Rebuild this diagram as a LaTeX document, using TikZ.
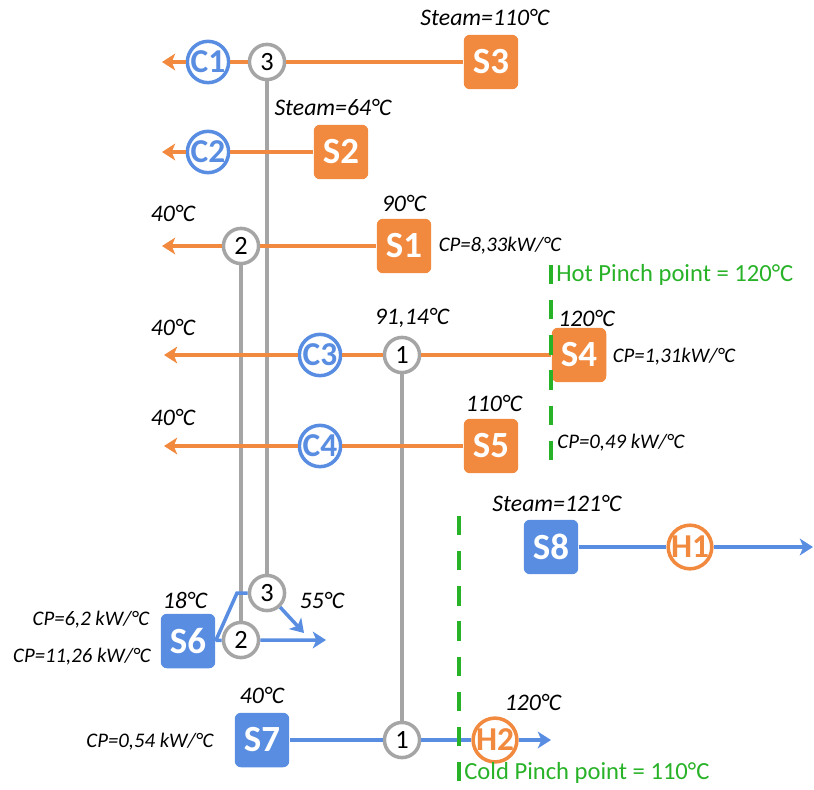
\documentclass[tikz,border=0pt]{standalone}
\usepackage{fontspec}
\setmainfont{Carlito}
\usetikzlibrary{arrows.meta,backgrounds}
\definecolor{hotc}{RGB}{241,137,62}
\definecolor{coldc}{RGB}{88,141,226}
\definecolor{pinchc}{RGB}{40,178,40}
\definecolor{hxgrey}{RGB}{165,165,165}

\begin{document}
\begin{tikzpicture}[x=0.2mm,y=-0.2mm,
    hotline/.style={draw=hotc,line width=2pt},
    coldline/.style={draw=coldc,line width=2pt},
    hxline/.style={draw=hxgrey,line width=2pt},
    tip/.style={-{Stealth[length=7.5pt,width=9.5pt,inset=2pt]}},
    hotbox/.style={fill=hotc,rounded corners=3.5pt,minimum size=31pt,inner sep=0pt,
      text=white,font=\fontsize{21}{21}\selectfont\bfseries},
    coldbox/.style={hotbox,fill=coldc},
    utilc/.style={circle,draw=coldc,fill=white,line width=2pt,minimum size=23.5pt,
      inner sep=0pt,text=coldc,font=\fontsize{19}{19}\selectfont\bfseries},
    utilh/.style={utilc,draw=hotc,text=hotc},
    hx/.style={circle,draw=hxgrey,fill=white,line width=2pt,minimum size=20pt,
      inner sep=0pt,font=\fontsize{15}{15}\selectfont},
    lbl/.style={font=\fontsize{13.5}{13.5}\selectfont\itshape,inner sep=0pt},
    cp/.style={font=\fontsize{11.8}{11.8}\selectfont\itshape,inner sep=0pt},
    pinch/.style={draw=pinchc,line width=2pt,dash pattern=on 11pt off 9pt},
    pinchtxt/.style={text=pinchc,font=\fontsize{14}{14}\selectfont,inner sep=0pt,anchor=west}]
  \useasboundingbox (0,0) rectangle (814,789);
  % hot streams (orange), flowing to the left
  \node[hotbox] (S3) at (491,62) {S3};
  \node[hotbox] (S2) at (341,152) {S2};
  \node[hotbox] (S1) at (404,246) {S1};
  \node[hotbox] (S4) at (579,355) {S4};
  \node[hotbox] (S5) at (491,446) {S5};
  % cold streams (blue), flowing to the right
  \node[coldbox] (S8) at (551,547) {S8};
  \node[coldbox] (S6) at (188,641) {S6};
  \node[coldbox] (S7) at (262,740) {S7};
  % coolers and heaters
  \node[utilc] (C1) at (208,62) {C1};
  \node[utilc] (C2) at (208,152) {C2};
  \node[utilc] (C3) at (320,355) {C3};
  \node[utilc] (C4) at (320,446) {C4};
  \node[utilh] (H1) at (690,547) {H1};
  \node[utilh] (H2) at (495,740) {H2};
  % heat exchangers: top and bottom end of each match
  \node[hx] (n3a) at (267,62) {3};
  \node[hx] (n3b) at (267,593) {3};
  \node[hx] (n2a) at (241,246) {2};
  \node[hx] (n2b) at (241,640) {2};
  \node[hx] (n1a) at (402,355) {1};
  \node[hx] (n1b) at (402,740) {1};
  % free ends of the streams
  \coordinate (e3) at (162,62);
  \coordinate (e2) at (162,152);
  \coordinate (e1) at (162,246);
  \coordinate (e4) at (164,355);
  \coordinate (e5) at (164,446);
  \coordinate (e8) at (813,547);
  \coordinate (e6) at (326,640);
  \coordinate (b6) at (237,593);
  \coordinate (e6b) at (304,633);
  \coordinate (e7) at (551,740);
  % matches (grey), behind the streams
  \begin{scope}[on background layer]
    \draw[hxline] (n3a) -- (n3b);
    \draw[hxline] (n2a) -- (n2b);
    \draw[hxline] (n1a) -- (n1b);
  \end{scope}
  \draw[hotline,tip] (S3) -- (n3a) -- (C1) -- (e3);
  \draw[hotline,tip] (S2) -- (C2) -- (e2);
  \draw[hotline,tip] (S1) -- (n2a) -- (e1);
  \draw[hotline,tip] (S4) -- (n1a) -- (C3) -- (e4);
  \draw[hotline,tip] (S5) -- (C4) -- (e5);
  \draw[coldline,tip] (S8) -- (H1) -- (e8);
  \draw[coldline,tip] (S6) -- (n2b) -- (e6);
  \draw[coldline] (S6.east) -- (b6) -- (n3b);
  \draw[coldline,tip] (n3b) -- (e6b);
  \draw[coldline,tip] (S7) -- (n1b) -- (H2) -- (e7);
  % temperatures and heat capacity flow rates
  \node[lbl] (tS3) at (485,17) {Steam=110°C};
  \node[lbl] (tS2) at (333,107) {Steam=64°C};
  \node[lbl] (tS1) at (404,203) {90°C};
  \node[cp] (cS1) at (500,246) {CP=8,33kW/°C};
  \node[lbl] (o1) at (173,213) {40°C};
  \node[lbl] (o4) at (173,327) {40°C};
  \node[lbl] (o5) at (173,417) {40°C};
  \node[lbl] (tn1) at (412,318) {91,14°C};
  \node[lbl,anchor=west] (tS4) at (558,318) {120°C};
  \node[cp] (cS4) at (674,357) {CP=1,31kW/°C};
  \node[lbl] (tS5) at (494,403) {110°C};
  \node[cp] (cS5) at (621,443) {CP=0,49 kW/°C};
  \node[lbl] (tS8) at (557,503) {Steam=121°C};
  \node[lbl] (tS6) at (185,600) {18°C};
  \node[lbl] (o6) at (322,600) {55°C};
  \node[cp] (cS6a) at (91,620) {CP=6,2 kW/°C};
  \node[cp] (cS6b) at (82,657) {CP=11,26 kW/°C};
  \node[lbl] (tS7) at (262,695) {40°C};
  \node[cp] (cS7) at (150,742) {CP=0,54 kW/°C};
  \node[lbl] (o7) at (533,702) {120°C};
  % pinch points
  \draw[pinch] (551,265) -- (551,472);
  \draw[pinch] (459,516) -- (459,789);
  \node[pinchtxt] (hp) at (556,275) {Hot Pinch point = 120°C};
  \node[pinchtxt] (cpp) at (464,773) {Cold Pinch point = 110°C};
\end{tikzpicture}
\end{document}
